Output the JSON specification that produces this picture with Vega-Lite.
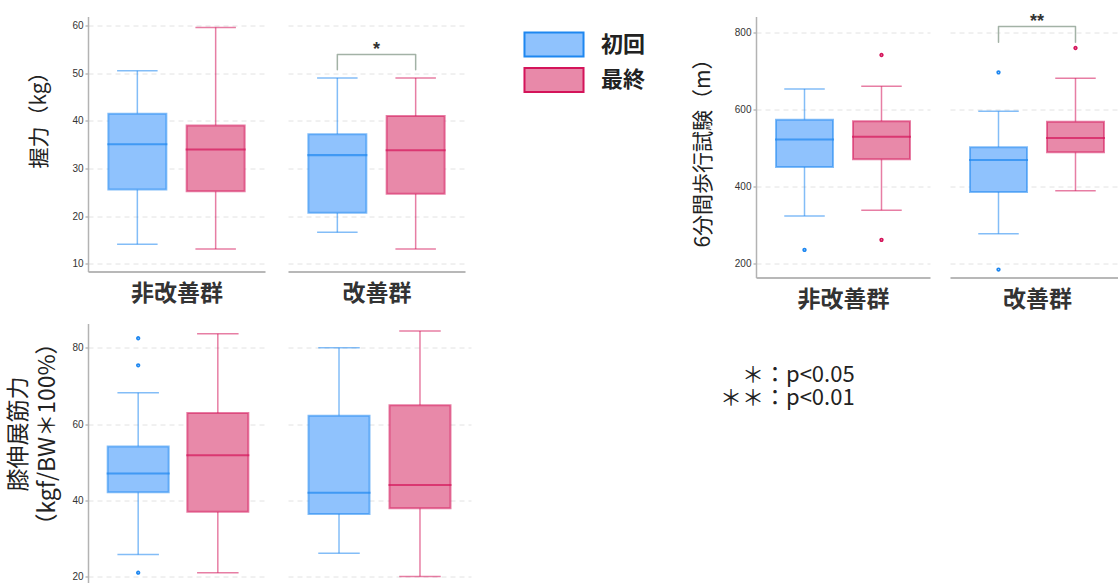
{
"$schema": "https://vega.github.io/schema/vega-lite/v6.json",
"background": "white",
"padding": {"left": 6, "top": 10.5, "right": 0, "bottom": 0},
"datasets": {
"box": [
{"m":"grip","g":"非改善群","t":"初回","lo":14.1,"q1":25.6,"med":35.1,"q3":41.5,"hi":50.5},
{"m":"grip","g":"非改善群","t":"最終","lo":13.1,"q1":25.2,"med":34.0,"q3":39.0,"hi":59.6},
{"m":"grip","g":"改善群","t":"初回","lo":16.6,"q1":20.7,"med":32.8,"q3":37.2,"hi":49.0},
{"m":"grip","g":"改善群","t":"最終","lo":13.1,"q1":24.7,"med":33.8,"q3":41.0,"hi":49.0},
{"m":"walk","g":"非改善群","t":"初回","lo":324,"q1":451,"med":522,"q3":573,"hi":653},
{"m":"walk","g":"非改善群","t":"最終","lo":339,"q1":471,"med":529,"q3":569,"hi":660},
{"m":"walk","g":"改善群","t":"初回","lo":278,"q1":386,"med":469,"q3":502,"hi":595},
{"m":"walk","g":"改善群","t":"最終","lo":389,"q1":489,"med":526,"q3":568,"hi":681},
{"m":"knee","g":"非改善群","t":"初回","lo":25.8,"q1":42.1,"med":47.0,"q3":54.1,"hi":68.2},
{"m":"knee","g":"非改善群","t":"最終","lo":21.0,"q1":37.0,"med":51.8,"q3":62.9,"hi":83.7},
{"m":"knee","g":"改善群","t":"初回","lo":26.1,"q1":36.4,"med":42.0,"q3":62.2,"hi":80.0},
{"m":"knee","g":"改善群","t":"最終","lo":20.0,"q1":37.9,"med":44.0,"q3":64.9,"hi":84.4}
],
"out": [
{"m":"walk","g":"非改善群","t":"初回","v":236},
{"m":"walk","g":"非改善群","t":"最終","v":741},
{"m":"walk","g":"非改善群","t":"最終","v":262},
{"m":"walk","g":"改善群","t":"初回","v":696},
{"m":"walk","g":"改善群","t":"初回","v":185},
{"m":"walk","g":"改善群","t":"最終","v":759},
{"m":"knee","g":"非改善群","t":"初回","v":82.5},
{"m":"knee","g":"非改善群","t":"初回","v":75.4},
{"m":"knee","g":"非改善群","t":"初回","v":21.0}
],
"br": [
{"m":"grip","t":"初回","o":1,"v":50.7},{"m":"grip","t":"初回","o":2,"v":53.9},{"m":"grip","t":"最終","o":3,"v":53.9},{"m":"grip","t":"最終","o":4,"v":50.7},
{"m":"walk","t":"初回","o":1,"v":774},{"m":"walk","t":"初回","o":2,"v":815},{"m":"walk","t":"最終","o":3,"v":815},{"m":"walk","t":"最終","o":4,"v":774}
],
"sig": [
{"m":"grip","t":"初回","label":"*","v":54.8},
{"m":"walk","t":"初回","label":"**","v":826}
],
"note": [
{"line":1,"sym":"＊：","p":"p<0.05"},
{"line":2,"sym":"＊＊：","p":"p<0.01"}
]
},
"columns": 5,
"align": "each",
"bounds": "flush",
"spacing": {"row": 46, "column": 20},
"concat": [
{
"width": 177, "height": 255,
"data": {"name": "box"},
"transform": [{"filter": "datum.m==='grip' && datum.g==='非改善群'"}],
"encoding": {"x": {"field": "t", "type": "nominal", "scale": {"domain": ["初回","最終"], "paddingInner": 0, "paddingOuter": 0.13}, "axis": {"title": "非改善群"}}},
"layer": [
{"mark": {"type": "rule", "strokeWidth": 1.5, "strokeOpacity": 0.55},
 "encoding": {"y": {"field": "lo", "type": "quantitative", "scale": {"domain": [8.38, 61.89], "nice": false, "zero": false}, "axis": {"values": [10,20,30,40,50,60], "title": "握力（kg）", "titleX": -49, "titleY": 98}}, "y2": {"field": "q1"},
 "stroke": {"field": "t", "type": "nominal", "scale": {"domain": ["初回","最終"], "range": ["#1e87f0","#d4145a"]}}}},
{"mark": {"type": "rule", "strokeWidth": 1.5, "strokeOpacity": 0.55},
 "encoding": {"y": {"field": "q3", "type": "quantitative", "scale": {"domain": [8.38, 61.89], "nice": false, "zero": false}, "axis": {"values": [10,20,30,40,50,60], "title": "握力（kg）", "titleX": -49, "titleY": 98}}, "y2": {"field": "hi"},
 "stroke": {"field": "t", "type": "nominal", "scale": {"domain": ["初回","最終"], "range": ["#1e87f0","#d4145a"]}}}},
{"mark": {"type": "tick", "orient": "horizontal", "size": 39, "thickness": 0.01, "filled": false, "opacity": 1, "strokeWidth": 1.5, "strokeOpacity": 0.55},
 "encoding": {"y": {"field": "lo", "type": "quantitative", "scale": {"domain": [8.38, 61.89], "nice": false, "zero": false}, "axis": {"values": [10,20,30,40,50,60], "title": "握力（kg）", "titleX": -49, "titleY": 98}},
 "stroke": {"field": "t", "type": "nominal", "scale": {"domain": ["初回","最終"], "range": ["#1e87f0","#d4145a"]}}}},
{"mark": {"type": "tick", "orient": "horizontal", "size": 39, "thickness": 0.01, "filled": false, "opacity": 1, "strokeWidth": 1.5, "strokeOpacity": 0.55},
 "encoding": {"y": {"field": "hi", "type": "quantitative", "scale": {"domain": [8.38, 61.89], "nice": false, "zero": false}, "axis": {"values": [10,20,30,40,50,60], "title": "握力（kg）", "titleX": -49, "titleY": 98}},
 "stroke": {"field": "t", "type": "nominal", "scale": {"domain": ["初回","最終"], "range": ["#1e87f0","#d4145a"]}}}},
{"mark": {"type": "bar", "size": 58, "strokeWidth": 2, "strokeOpacity": 0.55},
 "encoding": {"y": {"field": "q1", "type": "quantitative", "scale": {"domain": [8.38, 61.89], "nice": false, "zero": false}, "axis": {"values": [10,20,30,40,50,60], "title": "握力（kg）", "titleX": -49, "titleY": 98}}, "y2": {"field": "q3"},
 "fill": {"field": "t", "type": "nominal", "scale": {"domain": ["初回","最終"], "range": ["#8fc2fd","#e889a9"]}, "legend": {"title": null, "orient": "none", "legendX": 453, "legendY": 15, "symbolType": "M-2.46,-1H2.46V1H-2.46Z", "symbolSize": 576, "symbolStrokeWidth": 2, "symbolOpacity": 1, "rowPadding": 3.5, "labelFont": "Noto Sans CJK JP", "labelFontSize": 22, "labelFontWeight": "bold", "labelColor": "#222", "labelOffset": 34, "padding": 0}},
 "stroke": {"field": "t", "type": "nominal", "scale": {"domain": ["初回","最終"], "range": ["#1e87f0","#d4145a"]}, "legend": {"title": null, "orient": "none", "legendX": 453, "legendY": 15, "symbolType": "M-2.46,-1H2.46V1H-2.46Z", "symbolSize": 576, "symbolStrokeWidth": 2, "symbolOpacity": 1, "rowPadding": 3.5, "labelFont": "Noto Sans CJK JP", "labelFontSize": 22, "labelFontWeight": "bold", "labelColor": "#222", "labelOffset": 34, "padding": 0}}}},
{"mark": {"type": "tick", "orient": "horizontal", "size": 58, "thickness": 0.01, "filled": false, "opacity": 1, "strokeWidth": 2, "strokeOpacity": 0.7},
 "encoding": {"y": {"field": "med", "type": "quantitative", "scale": {"domain": [8.38, 61.89], "nice": false, "zero": false}, "axis": {"values": [10,20,30,40,50,60], "title": "握力（kg）", "titleX": -49, "titleY": 98}},
 "stroke": {"field": "t", "type": "nominal", "scale": {"domain": ["初回","最終"], "range": ["#1e87f0","#d4145a"]}}}}
]
},
{
"width": 177, "height": 255,
"data": {"name": "box"},
"transform": [{"filter": "datum.m==='grip' && datum.g==='改善群'"}],
"encoding": {"x": {"field": "t", "type": "nominal", "scale": {"domain": ["初回","最終"], "paddingInner": 0, "paddingOuter": 0.13}, "axis": {"title": "改善群"}}},
"layer": [
{"mark": {"type": "rule", "strokeWidth": 1.5, "strokeOpacity": 0.55},
 "encoding": {"y": {"field": "lo", "type": "quantitative", "scale": {"domain": [8.38, 61.89], "nice": false, "zero": false}, "axis": {"values": [10,20,30,40,50,60], "title": null, "labels": false, "ticks": false, "domain": false}}, "y2": {"field": "q1"},
 "stroke": {"field": "t", "type": "nominal", "scale": {"domain": ["初回","最終"], "range": ["#1e87f0","#d4145a"]}}}},
{"mark": {"type": "rule", "strokeWidth": 1.5, "strokeOpacity": 0.55},
 "encoding": {"y": {"field": "q3", "type": "quantitative", "scale": {"domain": [8.38, 61.89], "nice": false, "zero": false}, "axis": {"values": [10,20,30,40,50,60], "title": null, "labels": false, "ticks": false, "domain": false}}, "y2": {"field": "hi"},
 "stroke": {"field": "t", "type": "nominal", "scale": {"domain": ["初回","最終"], "range": ["#1e87f0","#d4145a"]}}}},
{"mark": {"type": "tick", "orient": "horizontal", "size": 39, "thickness": 0.01, "filled": false, "opacity": 1, "strokeWidth": 1.5, "strokeOpacity": 0.55},
 "encoding": {"y": {"field": "lo", "type": "quantitative", "scale": {"domain": [8.38, 61.89], "nice": false, "zero": false}, "axis": {"values": [10,20,30,40,50,60], "title": null, "labels": false, "ticks": false, "domain": false}},
 "stroke": {"field": "t", "type": "nominal", "scale": {"domain": ["初回","最終"], "range": ["#1e87f0","#d4145a"]}}}},
{"mark": {"type": "tick", "orient": "horizontal", "size": 39, "thickness": 0.01, "filled": false, "opacity": 1, "strokeWidth": 1.5, "strokeOpacity": 0.55},
 "encoding": {"y": {"field": "hi", "type": "quantitative", "scale": {"domain": [8.38, 61.89], "nice": false, "zero": false}, "axis": {"values": [10,20,30,40,50,60], "title": null, "labels": false, "ticks": false, "domain": false}},
 "stroke": {"field": "t", "type": "nominal", "scale": {"domain": ["初回","最終"], "range": ["#1e87f0","#d4145a"]}}}},
{"mark": {"type": "bar", "size": 58, "strokeWidth": 2, "strokeOpacity": 0.55},
 "encoding": {"y": {"field": "q1", "type": "quantitative", "scale": {"domain": [8.38, 61.89], "nice": false, "zero": false}, "axis": {"values": [10,20,30,40,50,60], "title": null, "labels": false, "ticks": false, "domain": false}}, "y2": {"field": "q3"},
 "fill": {"field": "t", "type": "nominal", "scale": {"domain": ["初回","最終"], "range": ["#8fc2fd","#e889a9"]}},
 "stroke": {"field": "t", "type": "nominal", "scale": {"domain": ["初回","最終"], "range": ["#1e87f0","#d4145a"]}}}},
{"mark": {"type": "tick", "orient": "horizontal", "size": 58, "thickness": 0.01, "filled": false, "opacity": 1, "strokeWidth": 2, "strokeOpacity": 0.7},
 "encoding": {"y": {"field": "med", "type": "quantitative", "scale": {"domain": [8.38, 61.89], "nice": false, "zero": false}, "axis": {"values": [10,20,30,40,50,60], "title": null, "labels": false, "ticks": false, "domain": false}},
 "stroke": {"field": "t", "type": "nominal", "scale": {"domain": ["初回","最終"], "range": ["#1e87f0","#d4145a"]}}}},
{"data": {"name": "br"}, "transform": [{"filter": "datum.m==='grip'"}],
 "mark": {"type": "line", "stroke": "#a3b2a6", "strokeWidth": 1.5, "strokeJoin": "round", "strokeCap": "round"},
 "encoding": {"y": {"field": "v", "type": "quantitative", "scale": {"domain": [8.38, 61.89], "nice": false, "zero": false}, "axis": {"values": [10,20,30,40,50,60], "title": null, "labels": false, "ticks": false, "domain": false}}, "order": {"field": "o", "type": "quantitative"}}},
{"data": {"name": "sig"}, "transform": [{"filter": "datum.m==='grip'"}],
 "mark": {"type": "text", "font": "Liberation Sans", "fontSize": 18, "fontWeight": "bold", "fill": "#333", "baseline": "middle"},
 "encoding": {"x": {"field": "t", "type": "nominal", "bandPosition": 1, "scale": {"domain": ["初回","最終"], "paddingInner": 0, "paddingOuter": 0.13}, "axis": {"title": "改善群"}},
 "y": {"field": "v", "type": "quantitative", "scale": {"domain": [8.38, 61.89], "nice": false, "zero": false}, "axis": {"values": [10,20,30,40,50,60], "title": null, "labels": false, "ticks": false, "domain": false}}, "text": {"field": "label"}}}
]
},
{
"width": 245, "height": 1,
"data": {"values": [{"s": ""}]},
"mark": {"type": "text"},
"encoding": {"text": {"field": "s"}}
},
{
"width": 174, "height": 261,
"data": {"name": "box"},
"transform": [{"filter": "datum.m==='walk' && datum.g==='非改善群'"}],
"encoding": {"x": {"field": "t", "type": "nominal", "scale": {"domain": ["初回","最終"], "paddingInner": 0, "paddingOuter": 0.13}, "axis": {"title": "非改善群"}}},
"layer": [
{"mark": {"type": "rule", "strokeWidth": 1.5, "strokeOpacity": 0.55},
 "encoding": {"y": {"field": "lo", "type": "quantitative", "scale": {"domain": [164.5, 840.7], "nice": false, "zero": false}, "axis": {"values": [200,400,600,800], "title": "6分間歩行試験（m）", "titleX": -53, "titleY": 131}}, "y2": {"field": "q1"},
 "stroke": {"field": "t", "type": "nominal", "scale": {"domain": ["初回","最終"], "range": ["#1e87f0","#d4145a"]}}}},
{"mark": {"type": "rule", "strokeWidth": 1.5, "strokeOpacity": 0.55},
 "encoding": {"y": {"field": "q3", "type": "quantitative", "scale": {"domain": [164.5, 840.7], "nice": false, "zero": false}, "axis": {"values": [200,400,600,800], "title": "6分間歩行試験（m）", "titleX": -53, "titleY": 131}}, "y2": {"field": "hi"},
 "stroke": {"field": "t", "type": "nominal", "scale": {"domain": ["初回","最終"], "range": ["#1e87f0","#d4145a"]}}}},
{"mark": {"type": "tick", "orient": "horizontal", "size": 39, "thickness": 0.01, "filled": false, "opacity": 1, "strokeWidth": 1.5, "strokeOpacity": 0.55},
 "encoding": {"y": {"field": "lo", "type": "quantitative", "scale": {"domain": [164.5, 840.7], "nice": false, "zero": false}, "axis": {"values": [200,400,600,800], "title": "6分間歩行試験（m）", "titleX": -53, "titleY": 131}},
 "stroke": {"field": "t", "type": "nominal", "scale": {"domain": ["初回","最終"], "range": ["#1e87f0","#d4145a"]}}}},
{"mark": {"type": "tick", "orient": "horizontal", "size": 39, "thickness": 0.01, "filled": false, "opacity": 1, "strokeWidth": 1.5, "strokeOpacity": 0.55},
 "encoding": {"y": {"field": "hi", "type": "quantitative", "scale": {"domain": [164.5, 840.7], "nice": false, "zero": false}, "axis": {"values": [200,400,600,800], "title": "6分間歩行試験（m）", "titleX": -53, "titleY": 131}},
 "stroke": {"field": "t", "type": "nominal", "scale": {"domain": ["初回","最終"], "range": ["#1e87f0","#d4145a"]}}}},
{"mark": {"type": "bar", "size": 57, "strokeWidth": 2, "strokeOpacity": 0.55},
 "encoding": {"y": {"field": "q1", "type": "quantitative", "scale": {"domain": [164.5, 840.7], "nice": false, "zero": false}, "axis": {"values": [200,400,600,800], "title": "6分間歩行試験（m）", "titleX": -53, "titleY": 131}}, "y2": {"field": "q3"},
 "fill": {"field": "t", "type": "nominal", "scale": {"domain": ["初回","最終"], "range": ["#8fc2fd","#e889a9"]}},
 "stroke": {"field": "t", "type": "nominal", "scale": {"domain": ["初回","最終"], "range": ["#1e87f0","#d4145a"]}}}},
{"mark": {"type": "tick", "orient": "horizontal", "size": 57, "thickness": 0.01, "filled": false, "opacity": 1, "strokeWidth": 2, "strokeOpacity": 0.7},
 "encoding": {"y": {"field": "med", "type": "quantitative", "scale": {"domain": [164.5, 840.7], "nice": false, "zero": false}, "axis": {"values": [200,400,600,800], "title": "6分間歩行試験（m）", "titleX": -53, "titleY": 131}},
 "stroke": {"field": "t", "type": "nominal", "scale": {"domain": ["初回","最終"], "range": ["#1e87f0","#d4145a"]}}}},
{"data": {"name": "out"}, "transform": [{"filter": "datum.m==='walk' && datum.g==='非改善群'"}],
 "mark": {"type": "point", "filled": false, "size": 3, "strokeWidth": 2.6, "opacity": 1, "strokeOpacity": 1},
 "encoding": {"y": {"field": "v", "type": "quantitative", "scale": {"domain": [164.5, 840.7], "nice": false, "zero": false}, "axis": {"values": [200,400,600,800], "title": "6分間歩行試験（m）", "titleX": -53, "titleY": 131}},
 "stroke": {"field": "t", "type": "nominal", "scale": {"domain": ["初回","最終"], "range": ["#1e87f0","#d4145a"]}}}}
]
},
{
"width": 174, "height": 261,
"data": {"name": "box"},
"transform": [{"filter": "datum.m==='walk' && datum.g==='改善群'"}],
"encoding": {"x": {"field": "t", "type": "nominal", "scale": {"domain": ["初回","最終"], "paddingInner": 0, "paddingOuter": 0.13}, "axis": {"title": "改善群"}}},
"layer": [
{"mark": {"type": "rule", "strokeWidth": 1.5, "strokeOpacity": 0.55},
 "encoding": {"y": {"field": "lo", "type": "quantitative", "scale": {"domain": [164.5, 840.7], "nice": false, "zero": false}, "axis": {"values": [200,400,600,800], "title": null, "labels": false, "ticks": false, "domain": false}}, "y2": {"field": "q1"},
 "stroke": {"field": "t", "type": "nominal", "scale": {"domain": ["初回","最終"], "range": ["#1e87f0","#d4145a"]}}}},
{"mark": {"type": "rule", "strokeWidth": 1.5, "strokeOpacity": 0.55},
 "encoding": {"y": {"field": "q3", "type": "quantitative", "scale": {"domain": [164.5, 840.7], "nice": false, "zero": false}, "axis": {"values": [200,400,600,800], "title": null, "labels": false, "ticks": false, "domain": false}}, "y2": {"field": "hi"},
 "stroke": {"field": "t", "type": "nominal", "scale": {"domain": ["初回","最終"], "range": ["#1e87f0","#d4145a"]}}}},
{"mark": {"type": "tick", "orient": "horizontal", "size": 39, "thickness": 0.01, "filled": false, "opacity": 1, "strokeWidth": 1.5, "strokeOpacity": 0.55},
 "encoding": {"y": {"field": "lo", "type": "quantitative", "scale": {"domain": [164.5, 840.7], "nice": false, "zero": false}, "axis": {"values": [200,400,600,800], "title": null, "labels": false, "ticks": false, "domain": false}},
 "stroke": {"field": "t", "type": "nominal", "scale": {"domain": ["初回","最終"], "range": ["#1e87f0","#d4145a"]}}}},
{"mark": {"type": "tick", "orient": "horizontal", "size": 39, "thickness": 0.01, "filled": false, "opacity": 1, "strokeWidth": 1.5, "strokeOpacity": 0.55},
 "encoding": {"y": {"field": "hi", "type": "quantitative", "scale": {"domain": [164.5, 840.7], "nice": false, "zero": false}, "axis": {"values": [200,400,600,800], "title": null, "labels": false, "ticks": false, "domain": false}},
 "stroke": {"field": "t", "type": "nominal", "scale": {"domain": ["初回","最終"], "range": ["#1e87f0","#d4145a"]}}}},
{"mark": {"type": "bar", "size": 57, "strokeWidth": 2, "strokeOpacity": 0.55},
 "encoding": {"y": {"field": "q1", "type": "quantitative", "scale": {"domain": [164.5, 840.7], "nice": false, "zero": false}, "axis": {"values": [200,400,600,800], "title": null, "labels": false, "ticks": false, "domain": false}}, "y2": {"field": "q3"},
 "fill": {"field": "t", "type": "nominal", "scale": {"domain": ["初回","最終"], "range": ["#8fc2fd","#e889a9"]}},
 "stroke": {"field": "t", "type": "nominal", "scale": {"domain": ["初回","最終"], "range": ["#1e87f0","#d4145a"]}}}},
{"mark": {"type": "tick", "orient": "horizontal", "size": 57, "thickness": 0.01, "filled": false, "opacity": 1, "strokeWidth": 2, "strokeOpacity": 0.7},
 "encoding": {"y": {"field": "med", "type": "quantitative", "scale": {"domain": [164.5, 840.7], "nice": false, "zero": false}, "axis": {"values": [200,400,600,800], "title": null, "labels": false, "ticks": false, "domain": false}},
 "stroke": {"field": "t", "type": "nominal", "scale": {"domain": ["初回","最終"], "range": ["#1e87f0","#d4145a"]}}}},
{"data": {"name": "out"}, "transform": [{"filter": "datum.m==='walk' && datum.g==='改善群'"}],
 "mark": {"type": "point", "filled": false, "size": 3, "strokeWidth": 2.6, "opacity": 1, "strokeOpacity": 1},
 "encoding": {"y": {"field": "v", "type": "quantitative", "scale": {"domain": [164.5, 840.7], "nice": false, "zero": false}, "axis": {"values": [200,400,600,800], "title": null, "labels": false, "ticks": false, "domain": false}},
 "stroke": {"field": "t", "type": "nominal", "scale": {"domain": ["初回","最終"], "range": ["#1e87f0","#d4145a"]}}}},
{"data": {"name": "br"}, "transform": [{"filter": "datum.m==='walk'"}],
 "mark": {"type": "line", "stroke": "#a3b2a6", "strokeWidth": 1.5, "strokeJoin": "round", "strokeCap": "round"},
 "encoding": {"y": {"field": "v", "type": "quantitative", "scale": {"domain": [164.5, 840.7], "nice": false, "zero": false}, "axis": {"values": [200,400,600,800], "title": null, "labels": false, "ticks": false, "domain": false}}, "order": {"field": "o", "type": "quantitative"}}},
{"data": {"name": "sig"}, "transform": [{"filter": "datum.m==='walk'"}],
 "mark": {"type": "text", "font": "Liberation Sans", "fontSize": 18, "fontWeight": "bold", "fill": "#333", "baseline": "middle"},
 "encoding": {"x": {"field": "t", "type": "nominal", "bandPosition": 1, "scale": {"domain": ["初回","最終"], "paddingInner": 0, "paddingOuter": 0.13}, "axis": {"title": "改善群"}},
 "y": {"field": "v", "type": "quantitative", "scale": {"domain": [164.5, 840.7], "nice": false, "zero": false}, "axis": {"values": [200,400,600,800], "title": null, "labels": false, "ticks": false, "domain": false}}, "text": {"field": "label"}}}
]
},
{
"width": 180, "height": 267,
"data": {"name": "box"},
"transform": [{"filter": "datum.m==='knee' && datum.g==='非改善群'"}],
"encoding": {"x": {"field": "t", "type": "nominal", "scale": {"domain": ["初回","最終"], "paddingInner": 0, "paddingOuter": 0.13}, "axis": {"title": null}}},
"layer": [
{"mark": {"type": "rule", "strokeWidth": 1.5, "strokeOpacity": 0.55},
 "encoding": {"y": {"field": "lo", "type": "quantitative", "scale": {"domain": [16.33, 86.37], "nice": false, "zero": false}, "axis": {"values": [20,40,60,80], "title": ["膝伸展筋力", "（kgf/BW＊100%）"], "titleX": -70, "titleY": 110, "titleLineHeight": 29, "titleFontSize": 23}}, "y2": {"field": "q1"},
 "stroke": {"field": "t", "type": "nominal", "scale": {"domain": ["初回","最終"], "range": ["#1e87f0","#d4145a"]}}}},
{"mark": {"type": "rule", "strokeWidth": 1.5, "strokeOpacity": 0.55},
 "encoding": {"y": {"field": "q3", "type": "quantitative", "scale": {"domain": [16.33, 86.37], "nice": false, "zero": false}, "axis": {"values": [20,40,60,80], "title": ["膝伸展筋力", "（kgf/BW＊100%）"], "titleX": -70, "titleY": 110, "titleLineHeight": 29, "titleFontSize": 23}}, "y2": {"field": "hi"},
 "stroke": {"field": "t", "type": "nominal", "scale": {"domain": ["初回","最終"], "range": ["#1e87f0","#d4145a"]}}}},
{"mark": {"type": "tick", "orient": "horizontal", "size": 40, "thickness": 0.01, "filled": false, "opacity": 1, "strokeWidth": 1.5, "strokeOpacity": 0.55},
 "encoding": {"y": {"field": "lo", "type": "quantitative", "scale": {"domain": [16.33, 86.37], "nice": false, "zero": false}, "axis": {"values": [20,40,60,80], "title": ["膝伸展筋力", "（kgf/BW＊100%）"], "titleX": -70, "titleY": 110, "titleLineHeight": 29, "titleFontSize": 23}},
 "stroke": {"field": "t", "type": "nominal", "scale": {"domain": ["初回","最終"], "range": ["#1e87f0","#d4145a"]}}}},
{"mark": {"type": "tick", "orient": "horizontal", "size": 40, "thickness": 0.01, "filled": false, "opacity": 1, "strokeWidth": 1.5, "strokeOpacity": 0.55},
 "encoding": {"y": {"field": "hi", "type": "quantitative", "scale": {"domain": [16.33, 86.37], "nice": false, "zero": false}, "axis": {"values": [20,40,60,80], "title": ["膝伸展筋力", "（kgf/BW＊100%）"], "titleX": -70, "titleY": 110, "titleLineHeight": 29, "titleFontSize": 23}},
 "stroke": {"field": "t", "type": "nominal", "scale": {"domain": ["初回","最終"], "range": ["#1e87f0","#d4145a"]}}}},
{"mark": {"type": "bar", "size": 61, "strokeWidth": 2, "strokeOpacity": 0.55},
 "encoding": {"y": {"field": "q1", "type": "quantitative", "scale": {"domain": [16.33, 86.37], "nice": false, "zero": false}, "axis": {"values": [20,40,60,80], "title": ["膝伸展筋力", "（kgf/BW＊100%）"], "titleX": -70, "titleY": 110, "titleLineHeight": 29, "titleFontSize": 23}}, "y2": {"field": "q3"},
 "fill": {"field": "t", "type": "nominal", "scale": {"domain": ["初回","最終"], "range": ["#8fc2fd","#e889a9"]}},
 "stroke": {"field": "t", "type": "nominal", "scale": {"domain": ["初回","最終"], "range": ["#1e87f0","#d4145a"]}}}},
{"mark": {"type": "tick", "orient": "horizontal", "size": 61, "thickness": 0.01, "filled": false, "opacity": 1, "strokeWidth": 2, "strokeOpacity": 0.7},
 "encoding": {"y": {"field": "med", "type": "quantitative", "scale": {"domain": [16.33, 86.37], "nice": false, "zero": false}, "axis": {"values": [20,40,60,80], "title": ["膝伸展筋力", "（kgf/BW＊100%）"], "titleX": -70, "titleY": 110, "titleLineHeight": 29, "titleFontSize": 23}},
 "stroke": {"field": "t", "type": "nominal", "scale": {"domain": ["初回","最終"], "range": ["#1e87f0","#d4145a"]}}}},
{"data": {"name": "out"}, "transform": [{"filter": "datum.m==='knee' && datum.g==='非改善群'"}],
 "mark": {"type": "point", "filled": false, "size": 3, "strokeWidth": 2.6, "opacity": 1, "strokeOpacity": 1},
 "encoding": {"y": {"field": "v", "type": "quantitative", "scale": {"domain": [16.33, 86.37], "nice": false, "zero": false}, "axis": {"values": [20,40,60,80], "title": ["膝伸展筋力", "（kgf/BW＊100%）"], "titleX": -70, "titleY": 110, "titleLineHeight": 29, "titleFontSize": 23}},
 "stroke": {"field": "t", "type": "nominal", "scale": {"domain": ["初回","最終"], "range": ["#1e87f0","#d4145a"]}}}}
]
},
{
"width": 183, "height": 267,
"data": {"name": "box"},
"transform": [{"filter": "datum.m==='knee' && datum.g==='改善群'"}],
"encoding": {"x": {"field": "t", "type": "nominal", "scale": {"domain": ["初回","最終"], "paddingInner": 0, "paddingOuter": 0.13}, "axis": {"title": null}}},
"layer": [
{"mark": {"type": "rule", "strokeWidth": 1.5, "strokeOpacity": 0.55},
 "encoding": {"y": {"field": "lo", "type": "quantitative", "scale": {"domain": [16.33, 86.37], "nice": false, "zero": false}, "axis": {"values": [20,40,60,80], "title": null, "labels": false, "ticks": false, "domain": false}}, "y2": {"field": "q1"},
 "stroke": {"field": "t", "type": "nominal", "scale": {"domain": ["初回","最終"], "range": ["#1e87f0","#d4145a"]}}}},
{"mark": {"type": "rule", "strokeWidth": 1.5, "strokeOpacity": 0.55},
 "encoding": {"y": {"field": "q3", "type": "quantitative", "scale": {"domain": [16.33, 86.37], "nice": false, "zero": false}, "axis": {"values": [20,40,60,80], "title": null, "labels": false, "ticks": false, "domain": false}}, "y2": {"field": "hi"},
 "stroke": {"field": "t", "type": "nominal", "scale": {"domain": ["初回","最終"], "range": ["#1e87f0","#d4145a"]}}}},
{"mark": {"type": "tick", "orient": "horizontal", "size": 40, "thickness": 0.01, "filled": false, "opacity": 1, "strokeWidth": 1.5, "strokeOpacity": 0.55},
 "encoding": {"y": {"field": "lo", "type": "quantitative", "scale": {"domain": [16.33, 86.37], "nice": false, "zero": false}, "axis": {"values": [20,40,60,80], "title": null, "labels": false, "ticks": false, "domain": false}},
 "stroke": {"field": "t", "type": "nominal", "scale": {"domain": ["初回","最終"], "range": ["#1e87f0","#d4145a"]}}}},
{"mark": {"type": "tick", "orient": "horizontal", "size": 40, "thickness": 0.01, "filled": false, "opacity": 1, "strokeWidth": 1.5, "strokeOpacity": 0.55},
 "encoding": {"y": {"field": "hi", "type": "quantitative", "scale": {"domain": [16.33, 86.37], "nice": false, "zero": false}, "axis": {"values": [20,40,60,80], "title": null, "labels": false, "ticks": false, "domain": false}},
 "stroke": {"field": "t", "type": "nominal", "scale": {"domain": ["初回","最終"], "range": ["#1e87f0","#d4145a"]}}}},
{"mark": {"type": "bar", "size": 61, "strokeWidth": 2, "strokeOpacity": 0.55},
 "encoding": {"y": {"field": "q1", "type": "quantitative", "scale": {"domain": [16.33, 86.37], "nice": false, "zero": false}, "axis": {"values": [20,40,60,80], "title": null, "labels": false, "ticks": false, "domain": false}}, "y2": {"field": "q3"},
 "fill": {"field": "t", "type": "nominal", "scale": {"domain": ["初回","最終"], "range": ["#8fc2fd","#e889a9"]}},
 "stroke": {"field": "t", "type": "nominal", "scale": {"domain": ["初回","最終"], "range": ["#1e87f0","#d4145a"]}}}},
{"mark": {"type": "tick", "orient": "horizontal", "size": 61, "thickness": 0.01, "filled": false, "opacity": 1, "strokeWidth": 2, "strokeOpacity": 0.7},
 "encoding": {"y": {"field": "med", "type": "quantitative", "scale": {"domain": [16.33, 86.37], "nice": false, "zero": false}, "axis": {"values": [20,40,60,80], "title": null, "labels": false, "ticks": false, "domain": false}},
 "stroke": {"field": "t", "type": "nominal", "scale": {"domain": ["初回","最終"], "range": ["#1e87f0","#d4145a"]}}}}
]
},
{
"width": 245, "height": 1,
"data": {"values": [{"s": ""}]},
"mark": {"type": "text"},
"encoding": {"text": {"field": "s"}}
},
{
"width": 60, "height": 124,
"data": {"name": "note"},
"layer": [
{"mark": {"type": "text", "align": "right", "baseline": "middle", "font": "Noto Sans CJK JP", "fontSize": 22, "fill": "#222"},
 "encoding": {"y": {"field": "line", "type": "quantitative", "scale": {"domain": [-1.183, 4.094], "reverse": true, "nice": false, "zero": false}, "axis": null}, "text": {"field": "sym"}}},
{"mark": {"type": "text", "align": "left", "baseline": "middle", "font": "Noto Sans CJK JP", "fontSize": 22, "fill": "#222"},
 "encoding": {"y": {"field": "line", "type": "quantitative", "scale": {"domain": [-1.183, 4.094], "reverse": true, "nice": false, "zero": false}, "axis": null}, "text": {"field": "p"}}}
]
}
],
"config": {
"font": "Noto Sans CJK JP",
"view": {"stroke": null},
"axisX": {"labels": false, "ticks": false, "grid": false, "domain": true, "domainColor": "#a0a0a0", "domainWidth": 1.5, "titleFont": "Noto Sans CJK JP", "titleFontSize": 23, "titleFontWeight": "bold", "titleColor": "#333", "titlePadding": 11},
"axisY": {"labelFont": "Liberation Sans", "labelFontSize": 10, "labelColor": "#333", "labelPadding": 2, "tickSize": 3, "tickColor": "#999", "tickWidth": 1, "domainColor": "#b3b3b3", "domainWidth": 1.5, "grid": true, "gridColor": "#e2e2e2", "gridDash": [5, 4], "gridWidth": 1, "titleFont": "Noto Sans CJK JP", "titleFontSize": 21, "titleFontWeight": "normal", "titleColor": "#222", "titleAngle": -90, "titleAlign": "center", "titleBaseline": "middle"}
}
}
